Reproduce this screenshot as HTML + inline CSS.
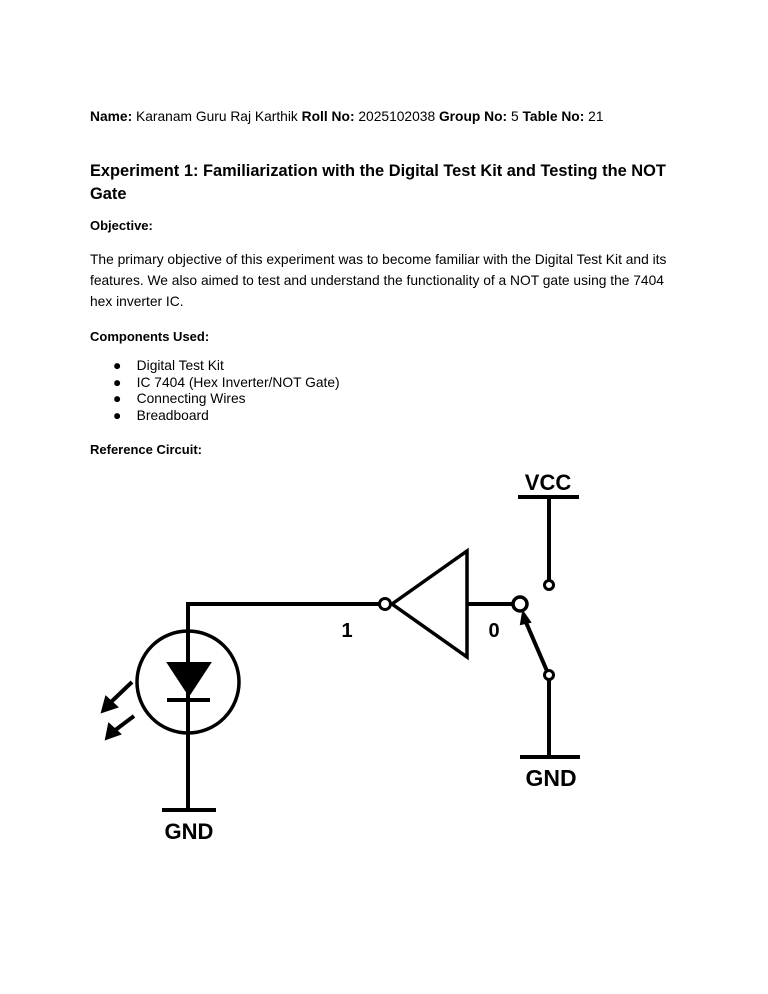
<!DOCTYPE html>
<html><head><style>
body{margin:0;width:768px;height:994px;background:#fff;position:relative;font-family:"Liberation Sans",Arial,sans-serif;color:#000;overflow:hidden}
.t{position:absolute;left:90px;font-size:13.8px;white-space:nowrap;line-height:18px}
.h{position:absolute;left:90px;font-size:16.4px;font-weight:bold;line-height:22px;white-space:nowrap}
b{font-weight:bold}
</style></head><body>
<div class="t" style="top:108px"><b>Name:</b> Karanam Guru Raj Karthik <b>Roll No:</b> 2025102038 <b>Group No:</b> 5 <b>Table No:</b> 21</div>
<div class="h" style="top:160px">Experiment 1: Familiarization with the Digital Test Kit and Testing the NOT</div>
<div class="h" style="top:183px">Gate</div>
<div class="t" style="top:217px;font-size:13px"><b>Objective:</b></div>
<div class="t" style="top:251px">The primary objective of this experiment was to become familiar with the Digital Test Kit and its</div>
<div class="t" style="top:272px">features. We also aimed to test and understand the functionality of a NOT gate using the 7404</div>
<div class="t" style="top:293px">hex inverter IC.</div>
<div class="t" style="top:328px;font-size:13px"><b>Components Used:</b></div>
<div class="t" style="top:357px;left:113px">●&nbsp;&nbsp;&nbsp;&nbsp;Digital Test Kit</div>
<div class="t" style="top:374px;left:113px">●&nbsp;&nbsp;&nbsp;&nbsp;IC 7404 (Hex Inverter/NOT Gate)</div>
<div class="t" style="top:390px;left:113px">●&nbsp;&nbsp;&nbsp;&nbsp;Connecting Wires</div>
<div class="t" style="top:407px;left:113px">●&nbsp;&nbsp;&nbsp;&nbsp;Breadboard</div>
<div class="t" style="top:441px;font-size:13px"><b>Reference Circuit:</b></div>
<svg width="768" height="994" style="position:absolute;left:0;top:0" fill="none" stroke="#000" stroke-width="4">
<g font-family="Liberation Sans,sans-serif" font-weight="bold" fill="#000" stroke="none" text-anchor="middle">
<text x="548" y="490" font-size="22">VCC</text>
<text x="551" y="786" font-size="23">GND</text>
<text x="189" y="839" font-size="22">GND</text>
<text x="347" y="637" font-size="20">1</text>
<text x="494" y="637" font-size="20">0</text>
</g>
<line x1="518" y1="497" x2="579" y2="497"/>
<line x1="549" y1="497" x2="549" y2="580"/>
<circle cx="549" cy="585" r="4.5" stroke-width="3"/>
<polyline points="188,682 188,604 379,604"/>
<circle cx="385" cy="604" r="5.5" stroke-width="3"/>
<polygon points="392,604 467,551 467,657" stroke-width="3.5"/>
<line x1="467" y1="604" x2="513" y2="604"/>
<circle cx="520" cy="604" r="7" stroke-width="3.5"/>
<line x1="525" y1="620" x2="547" y2="671"/>
<polygon points="523,612 530,622 521,624" fill="#000" stroke-width="2"/>
<circle cx="549" cy="675" r="4.5" stroke-width="3"/>
<line x1="549" y1="680" x2="549" y2="757"/>
<line x1="520" y1="757" x2="580" y2="757"/>
<circle cx="188" cy="682" r="51" stroke-width="3.5"/>
<polygon points="168,663 210,663 189,695" fill="#000" stroke-width="2"/>
<line x1="167" y1="700" x2="210" y2="700"/>
<line x1="188" y1="682" x2="188" y2="810"/>
<line x1="162" y1="810" x2="216" y2="810"/>
<line x1="132" y1="682" x2="110" y2="703"/>
<polygon points="102,712 106,697 117,707" fill="#000" stroke-width="2"/>
<line x1="134" y1="716" x2="114" y2="731"/>
<polygon points="106,739 109,724 120,734" fill="#000" stroke-width="2"/>
</svg>
</body></html>
